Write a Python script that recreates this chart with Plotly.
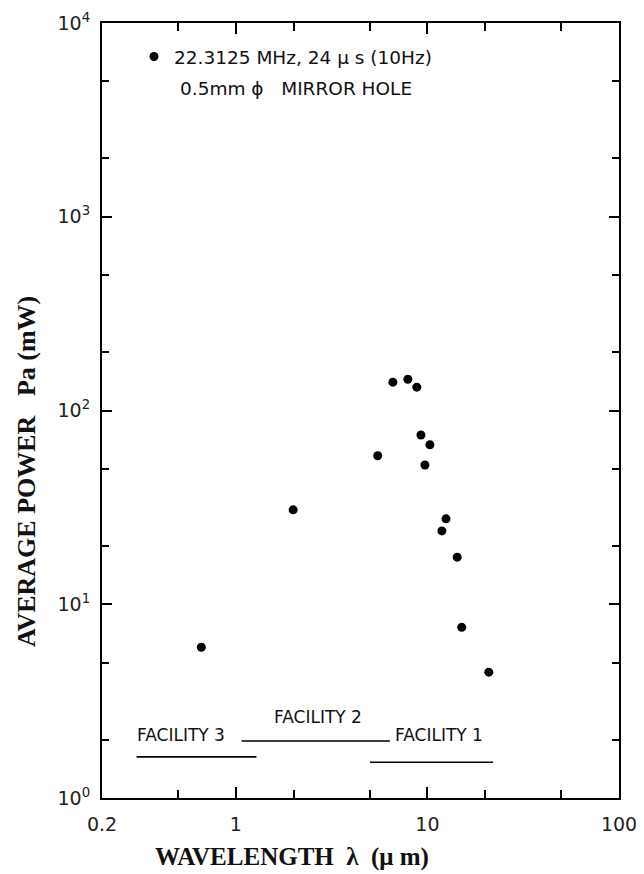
import math
import plotly.graph_objects as go

# ---- data ----
wavelength_um = [0.66, 1.99, 5.5, 6.6, 7.9, 8.8, 9.25, 10.3, 9.7, 12.5, 11.9, 14.3, 15.1, 20.9]
power_mw = [6.0, 30.7, 58.4, 140, 145, 132, 74.7, 66.6, 52.3, 27.6, 23.9, 17.5, 7.6, 4.46]

facility_names = ["FACILITY 3", "FACILITY 2", "FACILITY 1"]
facility_start = [0.303, 1.07, 5.01]
facility_end = [1.28, 6.37, 22.0]
facility_level = [1.63, 1.97, 1.53]
facility_label_x = [0.515, 2.67, 11.5]
facility_label_y = [2.11, 2.63, 2.11]

x_tickvals = [0.2, 1, 10, 100]
x_ticktext = ["0.2", "1", "10", "100"]
x_minor = [0.5, 2, 5, 20, 50]
y_tickvals = [1, 10, 100, 1000, 10000]
y_ticktext = ["10<sup>0</sup>", "10<sup>1</sup>", "10<sup>2</sup>", "10<sup>3</sup>", "10<sup>4</sup>"]
y_minor = [2, 5, 20, 50, 200, 500, 2000, 5000]

legend_line1 = "22.3125 MHz, 24 μ s (10Hz)"
legend_line2 = "0.5mm ϕ   MIRROR HOLE"

# page body has an 8px default margin; compensate so the plot frame sits
# at x 102..619, y 23..798 on screen
BODY = 8
PL, PR, PT, PB = 102, 619, 23, 798
PW, PH = PR - PL, PB - PT

fig = go.Figure()

for name, x0, x1, lvl in zip(facility_names, facility_start, facility_end, facility_level):
    fig.add_trace(go.Scatter(
        x=[x0, x1], y=[lvl, lvl], mode="lines",
        line=dict(color="black", width=1.6), showlegend=False, hoverinfo="skip"))

fig.add_trace(go.Scatter(
    x=wavelength_um, y=power_mw, mode="markers",
    marker=dict(color="black", size=9, line=dict(width=0)),
    name=legend_line1, showlegend=True))

tick_font = dict(family="DejaVu Sans", size=19, color="#222")

fig.update_xaxes(
    type="log", range=[math.log10(0.2), 2], automargin=False,
    tickmode="array", tickvals=x_tickvals, ticktext=x_ticktext,
    ticks="inside", ticklen=11, tickwidth=2, tickcolor="black",
    showline=True, linecolor="black", linewidth=2, mirror="ticks",
    showgrid=False, zeroline=False, tickfont=tick_font, ticklabelstandoff=8,
    minor=dict(tickvals=x_minor, ticks="inside", ticklen=8, tickwidth=2,
               tickcolor="black", showgrid=False),
)
fig.update_yaxes(
    type="log", range=[0, 4], automargin=False,
    tickmode="array", tickvals=y_tickvals, ticktext=y_ticktext,
    ticks="inside", ticklen=10, tickwidth=2, tickcolor="black",
    showline=True, linecolor="black", linewidth=2, mirror="ticks",
    showgrid=False, zeroline=False, tickfont=tick_font, ticklabelstandoff=6,
    minor=dict(tickvals=y_minor, ticks="inside", ticklen=7, tickwidth=2,
               tickcolor="black", showgrid=False),
)


def px(x):
    return (x - PL) / PW


def py(y):
    return (PB - y) / PH


annotations = []
for name, lx, ly in zip(facility_names, facility_label_x, facility_label_y):
    annotations.append(dict(
        x=math.log10(lx), y=math.log10(ly), xref="x", yref="y", text=name,
        showarrow=False, xanchor="center", yanchor="middle",
        font=dict(family="DejaVu Sans", size=17, color="#111")))

annotations.append(dict(
    x=px(178), y=py(88), xref="paper", yref="paper",
    text=legend_line2, showarrow=False, xanchor="left", yanchor="middle",
    font=dict(family="DejaVu Sans", size=18.5, color="#111")))

annotations.append(dict(
    x=px(292), y=py(857), xref="paper", yref="paper",
    text="WAVELENGTH  λ  (μ m)", showarrow=False, xanchor="center", yanchor="middle",
    font=dict(family="Liberation Serif", size=25, color="#111", weight="bold")))
annotations.append(dict(
    x=px(26), y=py(472), xref="paper", yref="paper",
    text="AVERAGE POWER   Pa (mW)", showarrow=False, xanchor="center", yanchor="middle",
    textangle=-90,
    font=dict(family="Liberation Serif", size=26, color="#111", weight="bold")))

fig.update_layout(
    width=644, height=874,
    margin=dict(l=PL - BODY, r=644 - PR + BODY, t=PT - BODY, b=874 - PB + BODY),
    paper_bgcolor="white", plot_bgcolor="white",
    showlegend=True,
    legend=dict(x=px(134), y=py(38), xanchor="left", yanchor="top",
                bgcolor="rgba(0,0,0,0)", borderwidth=0,
                font=dict(family="DejaVu Sans", size=18.5, color="#111")),
    annotations=annotations,
)

fig.write_html("out.html")
